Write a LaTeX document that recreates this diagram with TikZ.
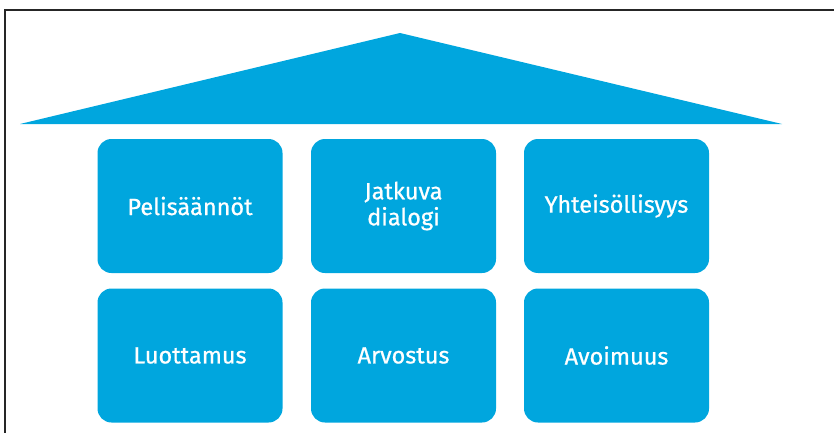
\documentclass[tikz,border=0pt]{standalone}
\usepackage{fontspec}
\setmainfont{Fira Sans}
\newfontfamily\pillarfont{Fira Sans}[FakeBold=0.7]
\begin{document}
\begin{tikzpicture}[x=1pt,y=-1pt,
  roofblue/.style={fill=housecol,draw=none},
  pillar/.style={fill=housecol,draw=none,rounded corners=14pt,
    minimum width=185pt,minimum height=134pt,inner sep=0pt,
    text=white,align=center,font=\pillarfont\fontsize{23.5}{26}\selectfont},
  frameline/.style={line width=2pt,draw=black!85}]
\definecolor{housecol}{RGB}{0,166,222}
\useasboundingbox (0,0) rectangle (834,433);
% frame edges
\coordinate (fb) at (5,433);
\coordinate (fc) at (5,10);
\coordinate (fr) at (834,10);
\draw[frameline] (fb) -- (fc) -- (fr);
% roof
\coordinate (rl) at (20,124);
\coordinate (rt) at (400,33);
\coordinate (rr) at (782,124);
\fill[roofblue] (rl) -- (rt) -- (rr) -- cycle;
% pillars
\node[pillar] (p1) at (190,206) {Pelisäännöt};
\node[pillar] (p2) at (403.5,206) {Jatkuva\\dialogi};
\node[pillar] (p3) at (616.5,206) {Yhteisöllisyys};
\node[pillar] (p4) at (190,355.5) {Luottamus};
\node[pillar] (p5) at (403.5,355.5) {Arvostus};
\node[pillar] (p6) at (616.5,355.5) {Avoimuus};
\end{tikzpicture}
\end{document}
